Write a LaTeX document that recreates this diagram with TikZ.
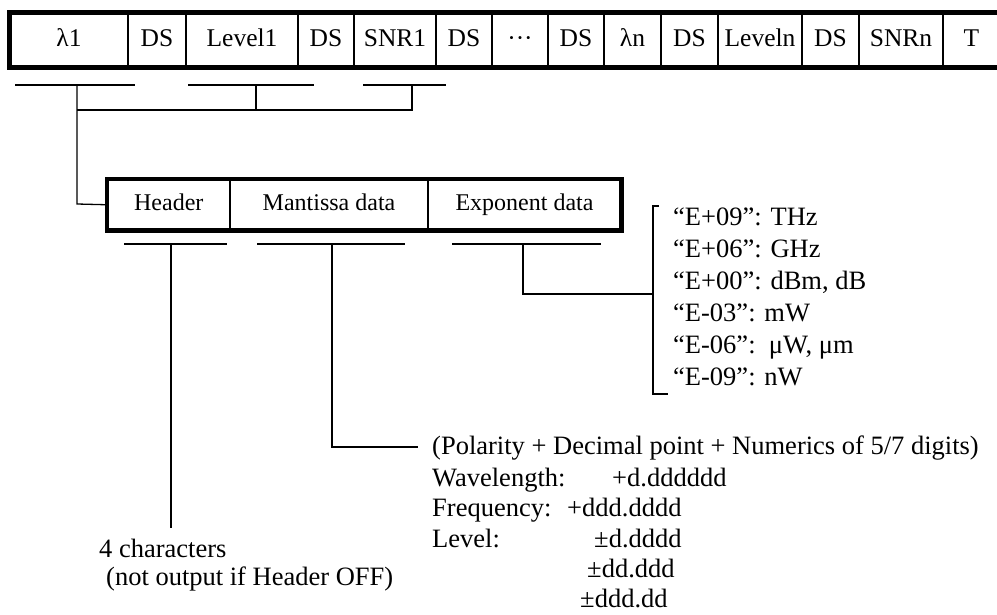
\documentclass[tikz,border=0pt]{standalone}
\usepackage{fontspec}
\setmainfont{Liberation Serif}
\begin{document}
\begin{tikzpicture}[x=1pt,y=-1pt]
\tikzset{
 cellT/.style={draw, line width=1.2pt, inner sep=0pt, minimum height=54pt, text height=18pt, text depth=5pt, font=\fontsize{25.5}{30}\selectfont},
 cellM/.style={draw, line width=1.2pt, inner sep=0pt, minimum height=50.5pt, text height=17pt, text depth=5pt, font=\fontsize{24}{28}\selectfont},
 conn/.style={line width=1.3pt},
 frameline/.style={line width=4.6pt, line join=miter},
 lbl/.style={anchor=base west, inner sep=0pt, font=\fontsize{26.5}{30}\selectfont},
}
\useasboundingbox (0,0) rectangle (997,614);
% top record
\node[cellT, minimum width=118pt] (c1)  at (69,40)    {λ1};
\node[cellT, minimum width=58pt]  (c2)  at (157,40)   {DS};
\node[cellT, minimum width=112pt] (c3)  at (242,40)   {Level1};
\node[cellT, minimum width=56pt]  (c4)  at (326,40)   {DS};
\node[cellT, minimum width=82pt]  (c5)  at (395,40)   {SNR1};
\node[cellT, minimum width=56pt]  (c6)  at (464,40)   {DS};
\node[cellT, minimum width=56pt]  (c7)  at (520,40)   {···};
\node[cellT, minimum width=56pt]  (c8)  at (576,40)   {DS};
\node[cellT, minimum width=57pt]  (c9)  at (632.5,40) {λn};
\node[cellT, minimum width=57pt]  (c10) at (689.5,40) {DS};
\node[cellT, minimum width=84pt]  (c11) at (760,40)   {Leveln};
\node[cellT, minimum width=57pt]  (c12) at (830.5,40) {DS};
\node[cellT, minimum width=84pt]  (c13) at (901,40)   {SNRn};
\node[cellT, minimum width=57pt]  (c14) at (971.5,40) {T};
\draw[frameline] (c14.north east) -- (c1.north west) -- (c1.south west) -- (c14.south east);
% underlines and grouping connector
\coordinate (ua1) at (15,85);  \coordinate (ua2) at (135,85);
\coordinate (ub1) at (188,85); \coordinate (ub2) at (314,85);
\coordinate (uc1) at (363,85); \coordinate (uc2) at (446,85);
\draw[conn] (ua1) -- (ua2);
\draw[conn] (ub1) -- (ub2);
\draw[conn] (uc1) -- (uc2);
\coordinate (va) at (77,85);  \coordinate (vb) at (256,85); \coordinate (vc) at (412,85);
\coordinate (ha) at (77,110); \coordinate (hb) at (256,110); \coordinate (hc) at (412,110);
\draw[conn] (vb) -- (hb);
\draw[conn] (vc) -- (hc) -- (ha);
% middle record
\node[cellM, minimum width=122.5pt] (m1) at (168.75,204.75) {Header};
\node[cellM, minimum width=198pt]   (m2) at (329,204.75)    {Mantissa data};
\node[cellM, minimum width=193pt]   (m3) at (524.5,204.75)  {Exponent data};
\draw[frameline] (m1.north west) rectangle (m3.south east);
\draw[conn] (va) -- (77,204) -- (m1.west);
% middle underlines
\coordinate (wa1) at (124,244); \coordinate (wa2) at (227,244);
\coordinate (wb1) at (257,244); \coordinate (wb2) at (405,244);
\coordinate (wc1) at (452,244); \coordinate (wc2) at (601,244);
\draw[conn] (wa1) -- (wa2);
\draw[conn] (wb1) -- (wb2);
\draw[conn] (wc1) -- (wc2);
% exponent bracket
\coordinate (bt) at (659,206);
\coordinate (bb) at (668,394);
\draw[conn] (bt) -- (653,206) -- (653,394) -- (bb);
\coordinate (ex) at (523,244);
\coordinate (exe) at (653,294);
\draw[conn] (ex) -- (523,294) -- (exe);
\node[lbl] (e1) at (673,225) {“E+09”: THz};
\node[lbl] (e2) at (673,257) {“E+06”: GHz};
\node[lbl] (e3) at (673,289) {“E+00”: dBm, dB};
\node[lbl] (e4) at (673,321) {“E-03”: mW};
\node[lbl] (e5) at (673,353) {“E-06”:\ \ μW, μm};
\node[lbl] (e6) at (673,385) {“E-09”: nW};
% mantissa
\node[lbl] (p0) at (432,454) {(Polarity + Decimal point + Numerics of 5/7 digits)};
\coordinate (ma) at (332,244);
\draw[conn] (ma) -- (332,447) -- (418,447);
\node[lbl] (p1) at (432,486) {Wavelength:};
\node[lbl] (p2) at (432,516) {Frequency:};
\node[lbl] (p3) at (432,547) {Level:};
\node[lbl] (q1) at (612,486) {+d.dddddd};
\node[lbl] (q2) at (567,516) {+ddd.dddd};
\node[lbl] (q3) at (594,547) {±d.dddd};
\node[lbl] (q4) at (587,577) {±dd.ddd};
\node[lbl] (q5) at (580,607) {±ddd.dd};
% header
\coordinate (ha1) at (171,244);
\coordinate (ha2) at (171,528);
\draw[conn] (ha1) -- (ha2);
\node[lbl] (h1) at (99,557) {4 characters};
\node[lbl] (h2) at (106,585) {(not output if Header OFF)};
\end{tikzpicture}
\end{document}
